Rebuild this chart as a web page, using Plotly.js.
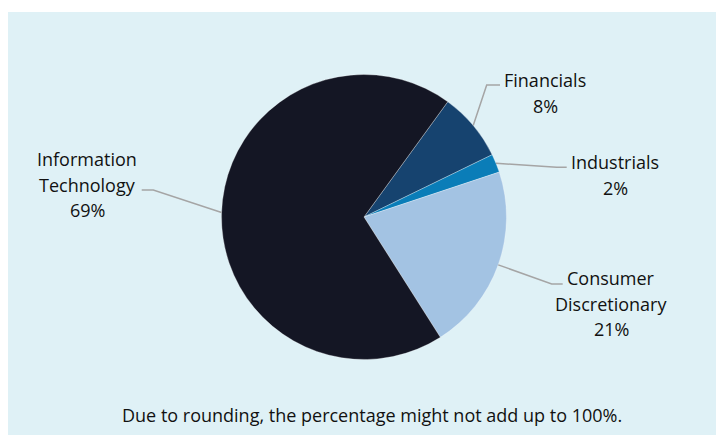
<!DOCTYPE html>
<html>
<head>
<meta charset="utf-8">
<script src="https://cdn.plot.ly/plotly-3.0.1.min.js"></script>
<style>html,body{margin:0;padding:0;background:#fff;}#chart{width:716px;height:435px;}</style>
</head>
<body>
<div id="chart"></div>
<script>
// Data
const sectors = ["Financials", "Industrials", "Consumer Discretionary", "Information Technology"];
const labelLines = [["Financials"], ["Industrials"], ["Consumer", "Discretionary"], ["Information", "Technology"]];
const weights = [7.8, 2.1, 21.1, 69.0];
const colors = ["#16436F", "#0A7DB8", "#A3C3E3", "#141624"];
const footnote = "Due to rounding, the percentage might not add up to 100%.";

const W = 716, H = 435;
const cx = 364, cy = 217, R = 142.5;
const rotation = 36;
const lineGap = 25.5;
const px = x => x / W;
const py = y => 1 - y / H;

// label anchor (first line centre) and elbow layout (pixels)
const labelPos = [
  {x: 545, y: 80, elbow: [486.7, 85], end: [500, 85]},
  {x: 615, y: 162, elbow: [556.7, 167.3], end: [566.7, 167.3]},
  {x: 611, y: 278, elbow: [551.7, 284], end: [562.7, 284]},
  {x: 87, y: 159, elbow: [153.3, 190], end: [141.7, 190]}
];

const font = {family: "Open Sans, sans-serif", size: 18, color: "#111111"};
const total = weights.reduce((a, b) => a + b, 0);
const shapes = [{
  type: "rect", xref: "paper", yref: "paper",
  x0: px(8), x1: 1, y0: 0, y1: py(12),
  fillcolor: "#DFF1F6", line: {width: 0}, layer: "below"
}];
const annotations = [];
let cum = 0;
weights.forEach((v, i) => {
  const mid = rotation + (cum + v / 2) / total * 360;
  cum += v;
  const a = mid * Math.PI / 180;
  const sx = cx + R * Math.sin(a), sy = cy - R * Math.cos(a);
  const L = labelPos[i];
  shapes.push({
    type: "path", xref: "paper", yref: "paper",
    path: `M ${px(sx)} ${py(sy)} L ${px(L.elbow[0])} ${py(L.elbow[1])} L ${px(L.end[0])} ${py(L.end[1])}`,
    line: {color: "#A5A5A5", width: 1.5}
  });
  const pct = Math.round(v / total * 100);
  const lines = labelLines[i].concat([pct + "%"]);
  lines.forEach((t, k) => {
    annotations.push({
      xref: "paper", yref: "paper", x: px(L.x), y: py(L.y + k * lineGap),
      xanchor: "center", yanchor: "middle", showarrow: false,
      text: t, font: font
    });
  });
});
annotations.push({
  xref: "paper", yref: "paper", x: px(372), y: py(415),
  xanchor: "center", yanchor: "middle", showarrow: false,
  text: footnote, font: font
});

const trace = {
  type: "pie",
  labels: sectors,
  values: weights,
  sort: false,
  direction: "clockwise",
  rotation: rotation,
  marker: {colors: colors, line: {color: "rgba(255,255,255,0.6)", width: 0.5}},
  textinfo: "none",
  hoverinfo: "label+percent",
  domain: {x: [px(cx - R), px(cx + R)], y: [py(cy + R), py(cy - R)]}
};

const layout = {
  width: W, height: H,
  margin: {l: 0, r: 0, t: 0, b: 0},
  paper_bgcolor: "#ffffff",
  showlegend: false,
  shapes: shapes,
  annotations: annotations
};

Plotly.newPlot("chart", [trace], layout, {displayModeBar: false, staticPlot: true});
</script>
</body>
</html>
